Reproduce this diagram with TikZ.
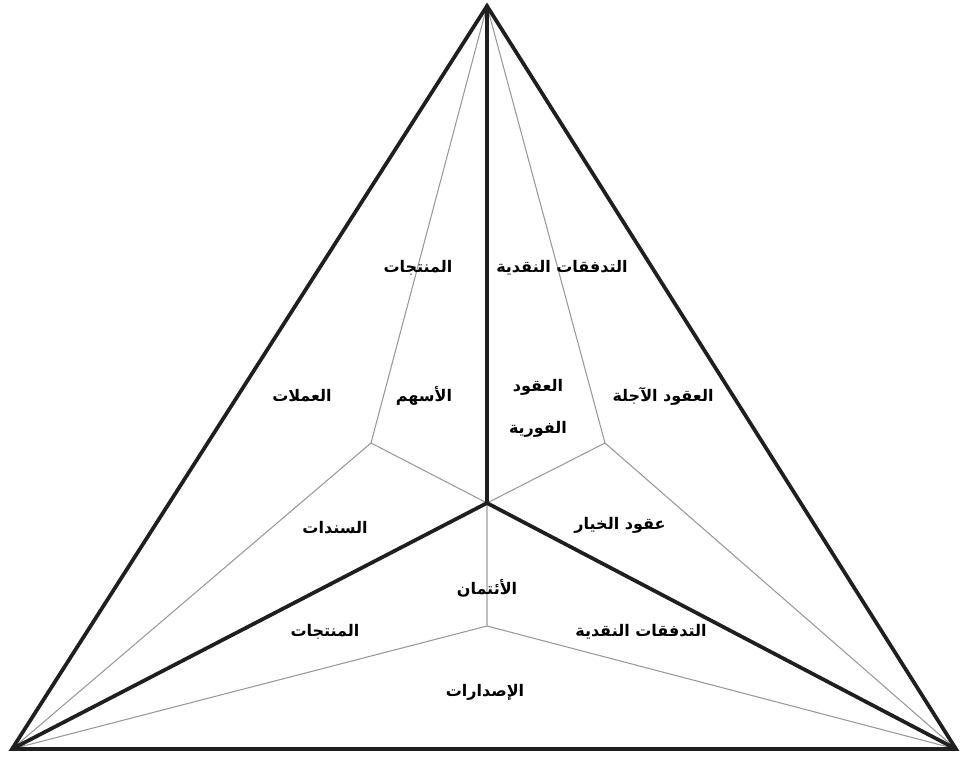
\documentclass[tikz,border=0pt]{standalone}
\usepackage{fontspec}
\TeXXeTstate=1
\newfontfamily\arabicfont[Script=Arabic]{DejaVu Sans}
\begin{document}
\begin{tikzpicture}[x=0.75pt,y=-0.75pt,
  thickline/.style={line width=2.8pt,black!88,line join=miter,line cap=round},
  thinline/.style={line width=0.8pt,black!40},
  faintline/.style={line width=0.9pt,black!25},
  lbl/.style={font=\arabicfont\bfseries\fontsize{12}{14}\selectfont,inner sep=1pt,align=center}]
\useasboundingbox (0,0) rectangle (960,758);
\coordinate (A) at (487,6);
\coordinate (BL) at (12,749);
\coordinate (BR) at (956,749);
\coordinate (O) at (487,503);
\coordinate (L) at (371,443);
\coordinate (R) at (605,443);
\coordinate (B) at (487,626);
% thin lines
\draw[thinline] (A) -- (L) -- (BL);
\draw[thinline] (L) -- (O);
\draw[thinline] (A) -- (R) -- (BR);
\draw[thinline] (R) -- (O);
\draw[thinline] (BL) -- (B) -- (BR);
\draw[faintline] (O) -- (B);
% thick lines
\draw[thickline] (A) -- (BL) -- (BR) -- cycle;
\draw[thickline] (A) -- (O);
\draw[thickline] (BL) -- (O) -- (BR);
% labels
\node[lbl] (t1) at (418,268) {\beginR المنتجات\endR};
\node[lbl] (t2) at (562,268) {\beginR التدفقات النقدية\endR};
\node[lbl] (t3) at (302,396) {\beginR العملات\endR};
\node[lbl] (t4) at (424,396) {\beginR الأسهم\endR};
\node[lbl] (t5) at (538,387) {\beginR العقود\endR};
\node[lbl] (t6) at (538,429) {\beginR الفورية\endR};
\node[lbl] (t7) at (663,396) {\beginR العقود الآجلة\endR};
\node[lbl] (t8) at (335,528) {\beginR السندات\endR};
\node[lbl] (t9) at (620,525) {\beginR عقود الخيار\endR};
\node[lbl] (t10) at (487,588) {\beginR الأئتمان\endR};
\node[lbl] (t11) at (325,632) {\beginR المنتجات\endR};
\node[lbl] (t12) at (641,632) {\beginR التدفقات النقدية\endR};
\node[lbl] (t13) at (485,692) {\beginR الإصدارات\endR};
\end{tikzpicture}
\end{document}
